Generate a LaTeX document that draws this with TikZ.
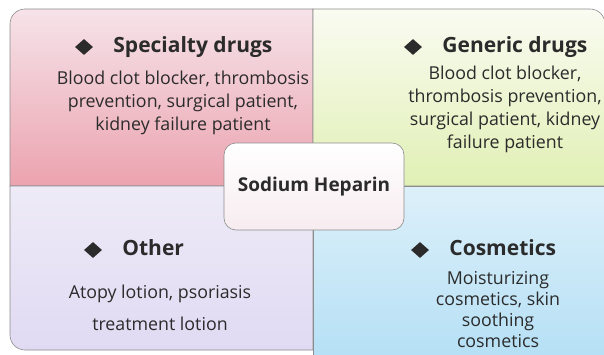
\documentclass[tikz,border=0pt]{standalone}
\usepackage{fontspec}
\setmainfont{Open Sans}
\usetikzlibrary{positioning,shapes.geometric}
\definecolor{ink}{HTML}{2B2B2B}
\definecolor{edgegray}{HTML}{8C8C8C}
\definecolor{pinktop}{HTML}{F6E3E9}
\definecolor{pinkbot}{HTML}{EBA3AF}
\definecolor{greentop}{HTML}{FAFBF2}
\definecolor{greenbot}{HTML}{E0F0B4}
\definecolor{lilactop}{HTML}{EEEBF7}
\definecolor{lilacbot}{HTML}{E0DAF3}
\definecolor{bluetop}{HTML}{DDF0FA}
\definecolor{bluebot}{HTML}{B6E0F5}
\definecolor{hubbot}{HTML}{F7ECF0}

\begin{document}
\begin{tikzpicture}[x=1pt,y=1pt, node distance=20pt, every node/.style={text=ink}, quad/.style={draw=edgegray,line width=.6pt}, hd/.style={font=\fontsize{21}{23}\selectfont\bfseries,inner sep=0pt,text height=15pt,text depth=4.5pt}, bd/.style={font=\fontsize{17.8}{23}\selectfont,align=center,inner sep=0pt}, dm/.style={diamond,fill=ink,inner sep=0pt,minimum width=18pt,minimum height=16pt}, hub/.style={draw=edgegray,line width=.6pt,top color=white,bottom color=hubbot,rounded corners=12pt,minimum width=180pt,minimum height=87pt,font=\fontsize{19}{21}\selectfont\bfseries}]
\useasboundingbox (0,0) rectangle (604,354);
% quadrants
\shade[quad,top color=pinktop,bottom color=pinkbot] (10,168) -- (10,330) arc[start angle=180,end angle=90,radius=15] -- (313,345) -- (313,168) -- cycle;
\shade[quad,top color=greentop,bottom color=greenbot] (313,168) -- (313,345) -- (590,345) arc[start angle=90,end angle=0,radius=15] -- (605,168) -- cycle;
\shade[quad,top color=lilactop,bottom color=lilacbot] (10,168) -- (10,19) arc[start angle=180,end angle=270,radius=15] -- (313,4) -- (313,168) -- cycle;
\shade[quad,top color=bluetop,bottom color=bluebot] (313,168) -- (313,-1) -- (605,-1) -- (605,168) -- cycle;
% headings
\node[dm] (d1) at (84,307) {};
\node[hd,right=of d1] (h1) {Specialty drugs};
\node[dm] (d2) at (413,307) {};
\node[hd,right=of d2] (h2) {Generic drugs};
\node[dm] (d3) at (93,104) {};
\node[hd,right=of d3] (h3) {Other};
\node[dm] (d4) at (420,104) {};
\node[hd,right=of d4] (h4) {Cosmetics};
% texts
\node[bd] (t1) at (183,251) {Blood clot blocker, thrombosis\\prevention, surgical patient,\\kidney failure patient};
\node[bd] (t2) at (505,244.5) {Blood clot blocker,\\thrombosis prevention,\\surgical patient, kidney\\failure patient};
\node[bd,font=\fontsize{17.8}{32}\selectfont] (t3) at (160,46) {Atopy lotion, psoriasis\\treatment lotion};
\node[bd,font=\fontsize{17.8}{21}\selectfont] (t4) at (498,44.5) {Moisturizing\\cosmetics, skin\\soothing\\cosmetics};
\node[hub] (c) at (314,167.5) {Sodium Heparin};
\end{tikzpicture}
\end{document}
